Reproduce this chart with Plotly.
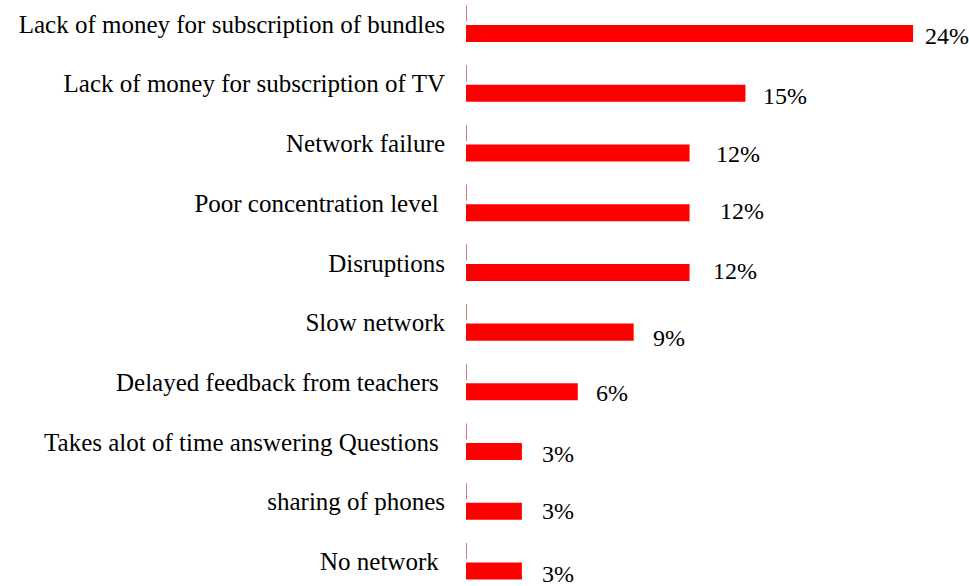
import plotly.graph_objects as go

# Reasons reported, top to bottom, with the share of respondents (%)
reasons = [
    "Lack of money for subscription of bundles",
    "Lack of money for subscription of TV",
    "Network failure",
    "Poor concentration level\u00a0",
    "Disruptions",
    "Slow network",
    "Delayed feedback from teachers\u00a0",
    "Takes alot of time answering Questions\u00a0",
    "sharing of phones",
    "No network\u00a0",
]
shares = [24, 15, 12, 12, 12, 9, 6, 3, 3, 3]

# Hand-placed offsets of the value labels (pixels right of the bar end / below its centre)
label_dx = [10, 16, 24, 28, 21, 17, 16, 18, 18, 18]
label_dy = [2, 3, 1.5, -1.5, -1, 6, 1, 2, 0, 3]

FONT = "'Liberation Serif', 'Times New Roman', serif"
BAR_COLOR = "#FF0000"
TICK_COLOR = "#C0504D"

pos = list(range(len(reasons)))

fig = go.Figure(
    go.Bar(
        x=shares,
        y=pos,
        orientation="h",
        width=0.285,
        marker=dict(color=BAR_COLOR, line=dict(width=0)),
        hoverinfo="skip",
    )
)

# short vertical marks on the value axis above each bar
for p in pos:
    fig.add_shape(
        type="line", xref="x", yref="y",
        x0=0, x1=0, y0=p - 0.47, y1=p - 0.2,
        line=dict(color=TICK_COLOR, width=1.5),
    )

# value labels
for p, v, dx, dy in zip(pos, shares, label_dx, label_dy):
    fig.add_annotation(
        x=v, y=p, xref="x", yref="y",
        text=f"{v}%", showarrow=False,
        xanchor="left", yanchor="middle",
        xshift=dx, yshift=-dy,
        font=dict(family=FONT, size=24, color="#000000"),
    )

fig.update_layout(
    width=969, height=586,
    margin=dict(l=466, r=0, t=0, b=0),
    paper_bgcolor="white", plot_bgcolor="white",
    showlegend=False,
    font=dict(family=FONT, size=24, color="#000000"),
    xaxis=dict(range=[0, 27.0], visible=False, fixedrange=True),
    yaxis=dict(
        range=[9.251, -0.561],
        tickvals=[p - 0.16 for p in pos],
        ticktext=reasons,
        showgrid=False, zeroline=False, showline=False,
        ticks="", ticklabelstandoff=20,
        tickfont=dict(family=FONT, size=25, color="#000000"),
        automargin=False, fixedrange=True,
    ),
)

fig.write_html("out.html")
